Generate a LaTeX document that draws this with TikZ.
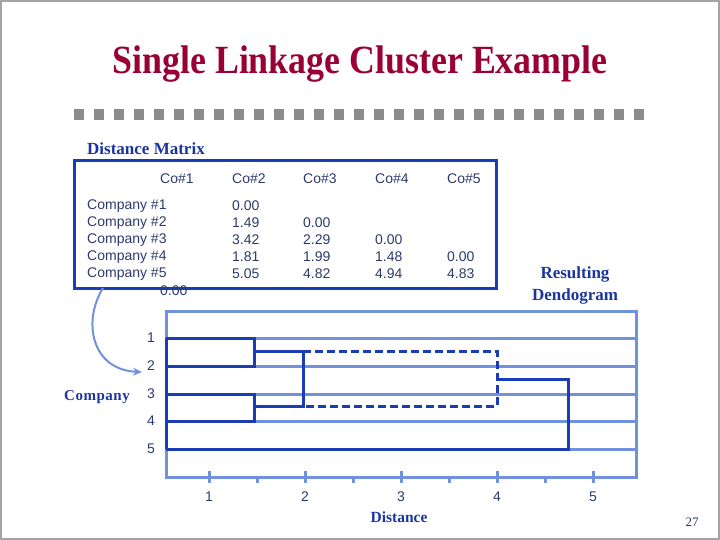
\documentclass[tikz,border=0pt]{standalone}
\usepackage{fontspec}
\usepackage{graphicx}
\setmainfont{Liberation Serif}
\newfontfamily\matfont{Liberation Sans}
\usetikzlibrary{arrows.meta}
\definecolor{titlered}{HTML}{990033}
\definecolor{navy}{HTML}{2B3A6B}
\definecolor{bblue}{HTML}{1A35A0}
\definecolor{dblue}{HTML}{1A3CB4}
\definecolor{lblue}{HTML}{7092DC}
\definecolor{sqgray}{HTML}{8C8C8C}
\tikzset{
  mat/.style={font=\matfont\fontsize{14}{16}\selectfont, text=navy, anchor=west, inner sep=0pt},
  axlab/.style={font=\matfont\fontsize{14}{16}\selectfont, text=navy, inner sep=0pt},
  btitle/.style={font=\bfseries\fontsize{17}{20}\selectfont, text=bblue, inner sep=0pt},
  grid/.style={draw=lblue, line width=3pt},
  dend/.style={draw=dblue, line width=3pt},
  dashdend/.style={draw=dblue, line width=3pt, dash pattern=on 8pt off 4pt},
}
\begin{document}
\begin{tikzpicture}[x=1pt,y=-1pt]
\useasboundingbox (0,0) rectangle (720,540);
\draw[sqgray!80, line width=2pt] (1,1) rectangle (719,539);
% title
\node[text=titlered, inner sep=0pt] (title) at (360,64) {\resizebox{495pt}{\height}{\bfseries\fontsize{40}{44}\selectfont Single Linkage Cluster Example}};
% squares
\foreach \i in {0,...,28} {
  \fill[sqgray] (74+20*\i,109) rectangle ++(10,11);
}
% distance matrix
\node[btitle, anchor=west] (dmt) at (87,149) {Distance Matrix};
\draw[draw=dblue, line width=3pt] (74,161) rectangle (496,288);
\node[mat] (h1) at (160,179) {Co\#1};
\node[mat] (h2) at (232,179) {Co\#2};
\node[mat] (h3) at (303,179) {Co\#3};
\node[mat] (h4) at (375,179) {Co\#4};
\node[mat] (h5) at (447,179) {Co\#5};
\foreach \r/\y in {1/206,2/223,3/240,4/257,5/274} {
  \node[mat] (c\r) at (87,\y) {Company \#\r};
}
\foreach \v/\y [count=\k] in {0.00/206,1.49/223,3.42/240,1.81/257,5.05/274} {
  \node[mat] (v2\k) at (232,\y) {\v};
}
\foreach \v/\y [count=\k] in {0.00/223,2.29/240,1.99/257,4.82/274} {
  \node[mat] (v3\k) at (303,\y) {\v};
}
\foreach \v/\y [count=\k] in {0.00/240,1.48/257,4.94/274} {
  \node[mat] (v4\k) at (375,\y) {\v};
}
\foreach \v/\y [count=\k] in {0.00/257,4.83/274} {
  \node[mat] (v5\k) at (447,\y) {\v};
}
\node[mat] (v11) at (160,291) {0.00};
% resulting dendogram
\node[btitle, align=center] (rd) at (575,285) {Resulting\\[2pt]Dendogram};
% dendrogram frame and grid
\draw[grid] (166,311) rectangle (636,477);
\foreach \y in {338,366,394,421,449} {
  \draw[grid] (166,\y) -- (636,\y);
}
\foreach \n/\y in {1/338,2/366,3/394,4/421,5/449} {
  \node[axlab] (r\n) at (151,\y) {\n};
}
\foreach \x in {209,305,401,497,593} {
  \draw[draw=lblue, line width=3pt] (\x,471) -- (\x,483);
}
\foreach \x in {257,353,449,545} {
  \draw[draw=lblue, line width=3pt] (\x,477) -- (\x,483);
}
\foreach \n/\x in {1/209,2/305,3/401,4/497,5/593} {
  \node[axlab] (t\n) at (\x,497) {\n};
}
\node[btitle, font=\bfseries\fontsize{15.5}{18}\selectfont] (dist) at (399,517) {Distance};
\node[btitle, font=\bfseries\fontsize{15}{18}\selectfont] (comp) at (97,397) {C\kern0.5pt o\kern0.5pt m\kern0.5pt p\kern0.5pt a\kern0.5pt n\kern0.5pt y};
% dendrogram lines
\draw[dend] (166,338) -- (166,449);
\draw[dend] (166,338) -- (254,338) -- (254,366) -- (166,366);
\draw[dend] (166,394) -- (254,394) -- (254,421) -- (166,421);
\draw[dend] (254,351) -- (303,351) -- (303,406) -- (254,406);
\draw[dashdend] (303,351) -- (497,351) -- (497,406) -- (303,406);
\draw[dend] (497,379) -- (568,379) -- (568,449) -- (166,449);
% arrow
\coordinate (as) at (103,288);
\coordinate (ae) at (142,372);
\draw[draw=lblue, line width=2pt, -{Stealth[length=9pt,width=8pt]}] (as) .. controls (82,322) and (92,370) .. (ae);
% page number
\node[text=navy, inner sep=0pt, font=\fontsize{13}{15}\selectfont] (pg) at (692,522) {27};
\end{tikzpicture}
\end{document}
